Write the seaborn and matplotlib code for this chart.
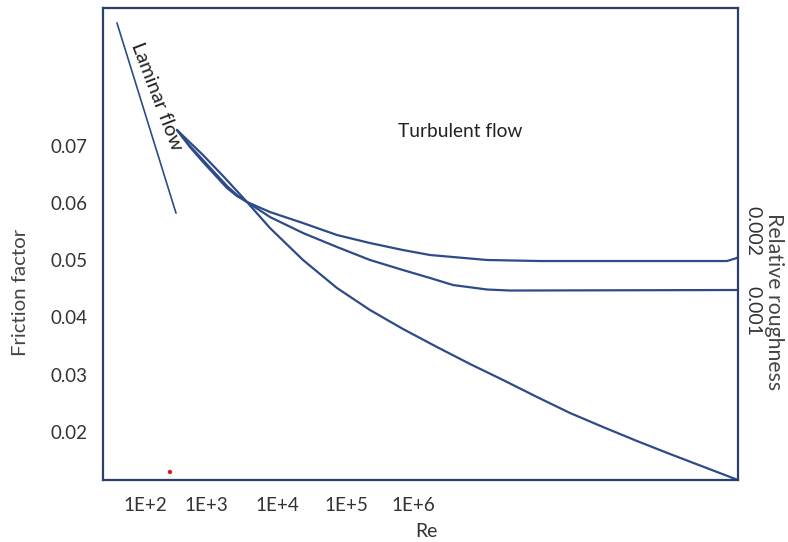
#!/usr/bin/env python3

# Import libraries
import matplotlib
matplotlib.use("Agg")
import matplotlib.pyplot as plt
import seaborn as sns

# Re axis positions (drawn, not to scale) and their labels
re_tick_pos = [0.66, 1.62, 2.74, 3.84, 4.88]
re_tick_labels = ["1E+2", "1E+3", "1E+4", "1E+5", "1E+6"]
f_ticks = [0.02, 0.03, 0.04, 0.05, 0.06, 0.07]

# Laminar flow line
lam_x = [0.22, 1.15]
lam_f = [0.0914, 0.0582]

# Smooth pipe curve
smooth_x = [1.165, 1.575, 1.921, 2.268, 2.630, 3.150, 3.685, 4.205, 4.724,
            5.260, 5.780, 6.299, 6.835, 7.354, 7.874, 8.409, 8.929, 9.465, 10.0]
smooth_f = [0.07271, 0.06834, 0.06433, 0.06014, 0.05560, 0.05002, 0.04513,
            0.04129, 0.03798, 0.03483, 0.03187, 0.02908, 0.02611, 0.02332,
            0.02087, 0.01843, 0.01616, 0.01389, 0.01162]

# Relative roughness 0.001
r001_x = [1.165, 1.370, 1.575, 1.764, 1.953, 2.110, 2.268, 2.630, 3.150,
          3.685, 4.205, 4.724, 5.150, 5.512, 6.047, 6.409, 10.0]
r001_f = [0.07271, 0.06991, 0.06747, 0.06520, 0.06293, 0.06136, 0.06014,
          0.05752, 0.05473, 0.05229, 0.05002, 0.04827, 0.04688, 0.04565,
          0.04487, 0.04469, 0.04478]

# Relative roughness 0.002
r002_x = [1.165, 1.370, 1.575, 1.764, 1.953, 2.110, 2.268, 2.630, 3.150,
          3.685, 4.205, 4.724, 5.150, 5.512, 6.047, 6.882, 9.827, 9.984, 10.0]
r002_f = [0.07271, 0.06974, 0.06712, 0.06485, 0.06258, 0.06119, 0.06014,
          0.05839, 0.05647, 0.05438, 0.05298, 0.05176, 0.05089, 0.05054,
          0.05002, 0.04984, 0.04984, 0.05037, 0.05054]

# Red dot near the bottom
dot_x = [1.055]
dot_f = [0.01302]

sns.set_style("white")
plt.rcParams["font.family"] = ["Lato", "DejaVu Sans"]

fig = plt.figure(figsize=(7.88, 5.42), dpi=100)
ax = fig.add_axes([0.1307, 0.1144, 0.8058, 0.8708])

line_col = "#2d4b88"
kw = dict(ax=ax, color=line_col, linewidth=1.6,
          solid_joinstyle="round", solid_capstyle="round")
sns.lineplot(x=lam_x, y=lam_f, ax=ax, color=line_col, linewidth=1.2)
sns.lineplot(x=smooth_x, y=smooth_f, clip_on=False, **kw)
sns.lineplot(x=r001_x, y=r001_f, **kw)
sns.lineplot(x=r002_x, y=r002_f, **kw)
sns.scatterplot(x=dot_x, y=dot_f, ax=ax, color="#d62020", s=10, edgecolor="none")

ax.set_xlim(0, 10)
ax.set_ylim(0.01162, 0.0940)
ax.set_xticks(re_tick_pos)
ax.set_xticklabels(re_tick_labels)
ax.set_yticks(f_ticks)
ax.set_yticklabels([f"{t:.2f}" for t in f_ticks])
ax.tick_params(axis="both", length=0, labelsize=13.5, colors="#333333")
ax.tick_params(axis="y", pad=11)
ax.tick_params(axis="x", pad=12)

for s in ax.spines.values():
    s.set_color("#2b3f6b")
    s.set_linewidth(1.6)

# Labels
ax.set_ylabel("Friction factor", fontsize=14.7, color="#444444")
ax.yaxis.set_label_coords(-0.1165, 0.398)
ax.set_xlabel("")
ax.text(0.5087, -0.110, "Re", transform=ax.transAxes, ha="center", va="center",
        fontsize=14, color="#333333")

ax.text(5.62, 0.07253, "Turbulent flow", ha="center", va="center",
        fontsize=13.8, color="#222222")
ax.text(0.85, 0.07864, "Laminar flow", ha="center", va="center",
        rotation=-69, rotation_mode="anchor", fontsize=14.5, color="#222222")

ax.text(1.0236, 0.5275, "0.002", transform=ax.transAxes, ha="center", va="center",
        rotation=-90, fontsize=14, color="#333333")
ax.text(1.0236, 0.358, "0.001", transform=ax.transAxes, ha="center", va="center",
        rotation=-90, fontsize=14, color="#333333")
ax.text(1.0567, 0.377, "Relative roughness", transform=ax.transAxes, ha="center",
        va="center", rotation=-90, fontsize=15.3, color="#444444")

# Save figure
plt.savefig("out.png", dpi=100)
